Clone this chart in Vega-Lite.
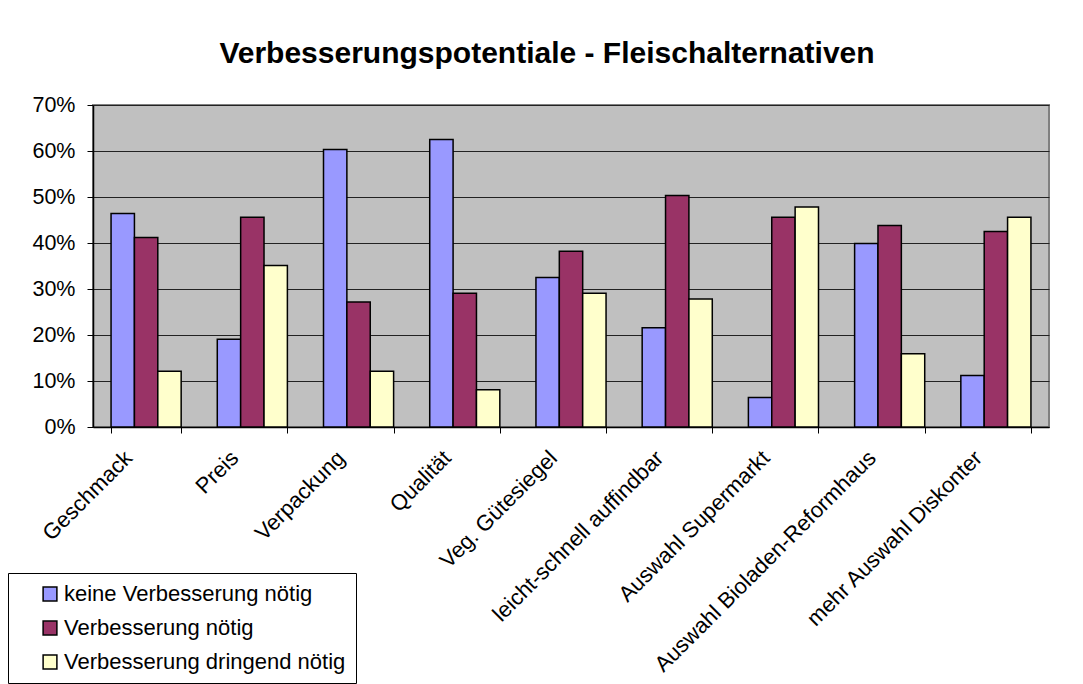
{
  "$schema": "https://vega.github.io/schema/vega-lite/v6.json",
  "width": 956,
  "height": 322,
  "autosize": {"type": "none"},
  "padding": {"left": 93, "top": 105, "right": 34, "bottom": 257},
  "background": "white",
  "title": {
    "text": "Verbesserungspotentiale - Fleischalternativen",
    "font": "Liberation Sans",
    "fontSize": 30,
    "fontWeight": "bold",
    "color": "black",
    "anchor": "middle",
    "offset": 25,
    "dx": -24
  },
  "data": {
    "values": [
      {"Kategorie": "Geschmack", "Bewertung": "keine Verbesserung nötig", "Anteil": 0.464},
      {"Kategorie": "Geschmack", "Bewertung": "Verbesserung nötig", "Anteil": 0.412},
      {"Kategorie": "Geschmack", "Bewertung": "Verbesserung dringend nötig", "Anteil": 0.121},
      {"Kategorie": "Preis", "Bewertung": "keine Verbesserung nötig", "Anteil": 0.191},
      {"Kategorie": "Preis", "Bewertung": "Verbesserung nötig", "Anteil": 0.456},
      {"Kategorie": "Preis", "Bewertung": "Verbesserung dringend nötig", "Anteil": 0.351},
      {"Kategorie": "Verpackung", "Bewertung": "keine Verbesserung nötig", "Anteil": 0.603},
      {"Kategorie": "Verpackung", "Bewertung": "Verbesserung nötig", "Anteil": 0.272},
      {"Kategorie": "Verpackung", "Bewertung": "Verbesserung dringend nötig", "Anteil": 0.121},
      {"Kategorie": "Qualität", "Bewertung": "keine Verbesserung nötig", "Anteil": 0.625},
      {"Kategorie": "Qualität", "Bewertung": "Verbesserung nötig", "Anteil": 0.291},
      {"Kategorie": "Qualität", "Bewertung": "Verbesserung dringend nötig", "Anteil": 0.081},
      {"Kategorie": "Veg. Gütesiegel", "Bewertung": "keine Verbesserung nötig", "Anteil": 0.325},
      {"Kategorie": "Veg. Gütesiegel", "Bewertung": "Verbesserung nötig", "Anteil": 0.382},
      {"Kategorie": "Veg. Gütesiegel", "Bewertung": "Verbesserung dringend nötig", "Anteil": 0.291},
      {"Kategorie": "leicht-schnell auffindbar", "Bewertung": "keine Verbesserung nötig", "Anteil": 0.216},
      {"Kategorie": "leicht-schnell auffindbar", "Bewertung": "Verbesserung nötig", "Anteil": 0.503},
      {"Kategorie": "leicht-schnell auffindbar", "Bewertung": "Verbesserung dringend nötig", "Anteil": 0.278},
      {"Kategorie": "Auswahl Supermarkt", "Bewertung": "keine Verbesserung nötig", "Anteil": 0.064},
      {"Kategorie": "Auswahl Supermarkt", "Bewertung": "Verbesserung nötig", "Anteil": 0.456},
      {"Kategorie": "Auswahl Supermarkt", "Bewertung": "Verbesserung dringend nötig", "Anteil": 0.478},
      {"Kategorie": "Auswahl Bioladen-Reformhaus", "Bewertung": "keine Verbesserung nötig", "Anteil": 0.399},
      {"Kategorie": "Auswahl Bioladen-Reformhaus", "Bewertung": "Verbesserung nötig", "Anteil": 0.438},
      {"Kategorie": "Auswahl Bioladen-Reformhaus", "Bewertung": "Verbesserung dringend nötig", "Anteil": 0.159},
      {"Kategorie": "mehr Auswahl Diskonter", "Bewertung": "keine Verbesserung nötig", "Anteil": 0.112},
      {"Kategorie": "mehr Auswahl Diskonter", "Bewertung": "Verbesserung nötig", "Anteil": 0.425},
      {"Kategorie": "mehr Auswahl Diskonter", "Bewertung": "Verbesserung dringend nötig", "Anteil": 0.456}
    ]
  },
  "mark": {"type": "bar", "stroke": "black", "strokeWidth": 1.5},
  "encoding": {
    "x": {
      "field": "Kategorie",
      "type": "nominal",
      "sort": null,
      "scale": {"paddingInner": 0.34, "paddingOuter": 0.17},
      "axis": {
        "title": null,
        "labelAngle": -45,
        "labelAlign": "right",
        "labelBaseline": "top",
        "labelFont": "Liberation Sans",
        "labelFontSize": 22,
        "labelColor": "black",
        "labelPadding": 14,
        "labelOffset": -25,
        "labelLimit": 0,
        "labelOverlap": false,
        "tickBand": "extent",
        "tickSize": 6,
        "tickColor": "black",
        "domainColor": "black",
        "domainWidth": 1.5,
        "grid": false
      }
    },
    "xOffset": {
      "field": "Bewertung",
      "type": "nominal",
      "sort": ["keine Verbesserung nötig", "Verbesserung nötig", "Verbesserung dringend nötig"],
      "scale": {"paddingInner": 0, "paddingOuter": 0}
    },
    "y": {
      "field": "Anteil",
      "type": "quantitative",
      "scale": {"domain": [0, 0.7], "nice": false},
      "axis": {
        "title": null,
        "format": ".0%",
        "values": [0, 0.1, 0.2, 0.3, 0.4, 0.5, 0.6, 0.7],
        "labelFont": "Liberation Sans",
        "labelFontSize": 21.5,
        "labelColor": "black",
        "labelPadding": 12,
        "tickSize": 6,
        "tickColor": "black",
        "domainColor": "black",
        "domainWidth": 1.5,
        "grid": true,
        "gridColor": "#222222",
        "gridWidth": 1
      }
    },
    "color": {
      "field": "Bewertung",
      "type": "nominal",
      "scale": {
        "domain": ["keine Verbesserung nötig", "Verbesserung nötig", "Verbesserung dringend nötig"],
        "range": ["#9999FF", "#993366", "#FFFFCC"]
      },
      "legend": {
        "title": null,
        "orient": "none",
        "legendX": -85,
        "legendY": 468,
        "direction": "vertical",
        "strokeColor": "black",
        "fillColor": "white",
        "padding": 10,
        "symbolType": "square",
        "symbolSize": 190,
        "symbolStrokeColor": "black",
        "symbolStrokeWidth": 1.5,
        "symbolOpacity": 1,
        "symbolOffset": 21,
        "labelFont": "Liberation Sans",
        "labelFontSize": 22,
        "labelColor": "black",
        "labelOffset": 3,
        "labelLimit": 400,
        "rowPadding": 12
      }
    }
  },
  "config": {
    "view": {"fill": "#C0C0C0", "stroke": "#808080", "strokeWidth": 2}
  }
}
